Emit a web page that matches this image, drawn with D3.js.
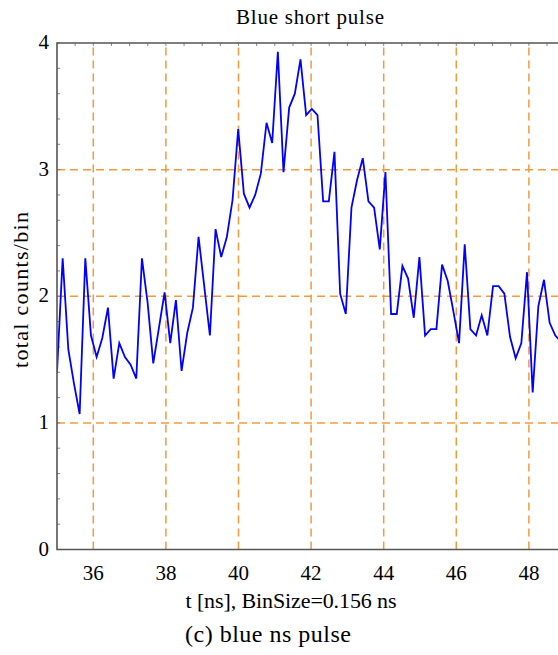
<!DOCTYPE html>
<html>
<head>
<meta charset="utf-8">
<script src="https://cdn.jsdelivr.net/npm/d3@7"></script>
<style>
  body { margin: 0; background: #fff; }
  text { font-family: "Liberation Serif", "Times New Roman", serif; fill: #000; }
</style>
</head>
<body>
<div id="chart"></div>
<script>
// bin start and width (ns)
var t0 = 35.0,
    binSize = 0.156;

// total counts per bin
var counts = [1.40, 2.30, 1.58, 1.31, 1.07, 2.30, 1.69, 1.52, 1.67, 1.91,
              1.35, 1.63, 1.52, 1.46, 1.35, 2.30, 1.95, 1.47, 1.75, 2.03,
              1.63, 1.97, 1.41, 1.71, 1.91, 2.47, 2.08, 1.69, 2.53, 2.31,
              2.47, 2.76, 3.32, 2.81, 2.70, 2.80, 2.97, 3.37, 3.21, 3.93,
              2.98, 3.49, 3.60, 3.87, 3.43, 3.48, 3.43, 2.75, 2.75, 3.14,
              2.02, 1.86, 2.70, 2.92, 3.09, 2.75, 2.70, 2.37, 2.98, 1.86,
              1.86, 2.24, 2.14, 1.83, 2.31, 1.69, 1.74, 1.74, 2.25, 2.12,
              1.88, 1.63, 2.41, 1.74, 1.69, 1.85, 1.69, 2.08, 2.08, 2.02,
              1.68, 1.51, 1.63, 2.19, 1.24, 1.92, 2.13, 1.79, 1.69, 1.64];

var xTicks = [36, 38, 40, 42, 44, 46, 48];
var yTicks = [0, 1, 2, 3, 4];

var title = "Blue short pulse",
    xLabel = "t [ns], BinSize=0.156 ns",
    yLabel = "total counts/bin",
    caption = "(c) blue ns pulse";

var data = counts.map(function (c, i) {
    return {t: t0 + i * binSize, v: c};
});

var width = 558,
    height = 655,
    margin = {left: 57, top: 43, right: -2, bottom: 105.5};

var svg = d3.select("#chart")
    .append("svg")
    .attr("width", width)
    .attr("height", height);

var x = d3.scaleLinear()
    .domain([35, 48.857])
    .range([margin.left, width - margin.right]);

var y = d3.scaleLinear()
    .domain([0, 4])
    .range([height - margin.bottom, margin.top]);

var gridColor = "#f39a3c";

svg.append("clipPath")
    .attr("id", "clip")
    .append("rect")
    .attr("x", margin.left)
    .attr("y", margin.top)
    .attr("width", width - margin.left - margin.right)
    .attr("height", y(0) - y(4));

// grid
svg.selectAll(".vgrid")
    .data(xTicks)
    .enter()
    .append("line")
    .attr("class", "vgrid")
    .attr("x1", d => x(d)).attr("x2", d => x(d))
    .attr("y1", y(0)).attr("y2", y(4))
    .attr("stroke", gridColor)
    .attr("stroke-width", 1.5)
    .attr("stroke-dasharray", "8,5");

svg.selectAll(".hgrid")
    .data([1, 2, 3])
    .enter()
    .append("line")
    .attr("class", "hgrid")
    .attr("x1", margin.left).attr("x2", width)
    .attr("y1", d => y(d)).attr("y2", d => y(d))
    .attr("stroke", gridColor)
    .attr("stroke-width", 1.5)
    .attr("stroke-dasharray", "8,5");

// minor ticks (inward)
var yMinor = d3.range(0, 4.001, 0.2);
svg.selectAll(".yminor")
    .data(yMinor)
    .enter()
    .append("line")
    .attr("x1", margin.left).attr("x2", margin.left + 3)
    .attr("y1", d => y(d)).attr("y2", d => y(d))
    .attr("stroke", "#888")
    .attr("stroke-width", 1);

var xMinor = d3.range(35.5, 48.9, 0.5);
svg.selectAll(".xminor")
    .data(xMinor)
    .enter()
    .append("line")
    .attr("x1", d => x(d)).attr("x2", d => x(d))
    .attr("y1", y(4)).attr("y2", y(4) + 3)
    .attr("stroke", "#888")
    .attr("stroke-width", 1);

// data line
var line = d3.line()
    .x(d => x(d.t))
    .y(d => y(d.v));

svg.append("path")
    .datum(data)
    .attr("clip-path", "url(#clip)")
    .attr("d", line)
    .attr("fill", "none")
    .attr("stroke", "#0000ff")
    .attr("stroke-width", 1.8)
    .attr("stroke-linejoin", "miter");

// frame
svg.append("path")
    .attr("d", "M" + width + "," + y(4) + "H" + margin.left + "V" + y(0) + "H" + width)
    .attr("fill", "none")
    .attr("stroke", "#555")
    .attr("stroke-width", 1.6);

// tick labels
svg.selectAll(".xlab")
    .data(xTicks)
    .enter()
    .append("text")
    .attr("x", d => x(d))
    .attr("y", 580)
    .attr("text-anchor", "middle")
    .attr("font-size", 21)
    .text(d => d);

svg.selectAll(".ylab")
    .data(yTicks)
    .enter()
    .append("text")
    .attr("x", 49)
    .attr("y", d => y(d) + 6)
    .attr("text-anchor", "end")
    .attr("font-size", 21)
    .text(d => d);

// titles
svg.append("text")
    .attr("x", 310)
    .attr("y", 24)
    .attr("text-anchor", "middle")
    .attr("font-size", 21)
    .attr("textLength", 148)
    .attr("lengthAdjust", "spacing")
    .text(title);

svg.append("text")
    .attr("x", 291)
    .attr("y", 608)
    .attr("text-anchor", "middle")
    .attr("font-size", 22)
    .attr("textLength", 211)
    .attr("lengthAdjust", "spacing")
    .text(xLabel);

svg.append("text")
    .attr("transform", "translate(28," + 290 + ") rotate(-90)")
    .attr("text-anchor", "middle")
    .attr("font-size", 22)
    .attr("textLength", 156)
    .attr("lengthAdjust", "spacing")
    .text(yLabel);

svg.append("text")
    .attr("x", 268)
    .attr("y", 642)
    .attr("text-anchor", "middle")
    .attr("font-size", 24)
    .attr("textLength", 166)
    .attr("lengthAdjust", "spacing")
    .text(caption);
</script>
</body>
</html>
